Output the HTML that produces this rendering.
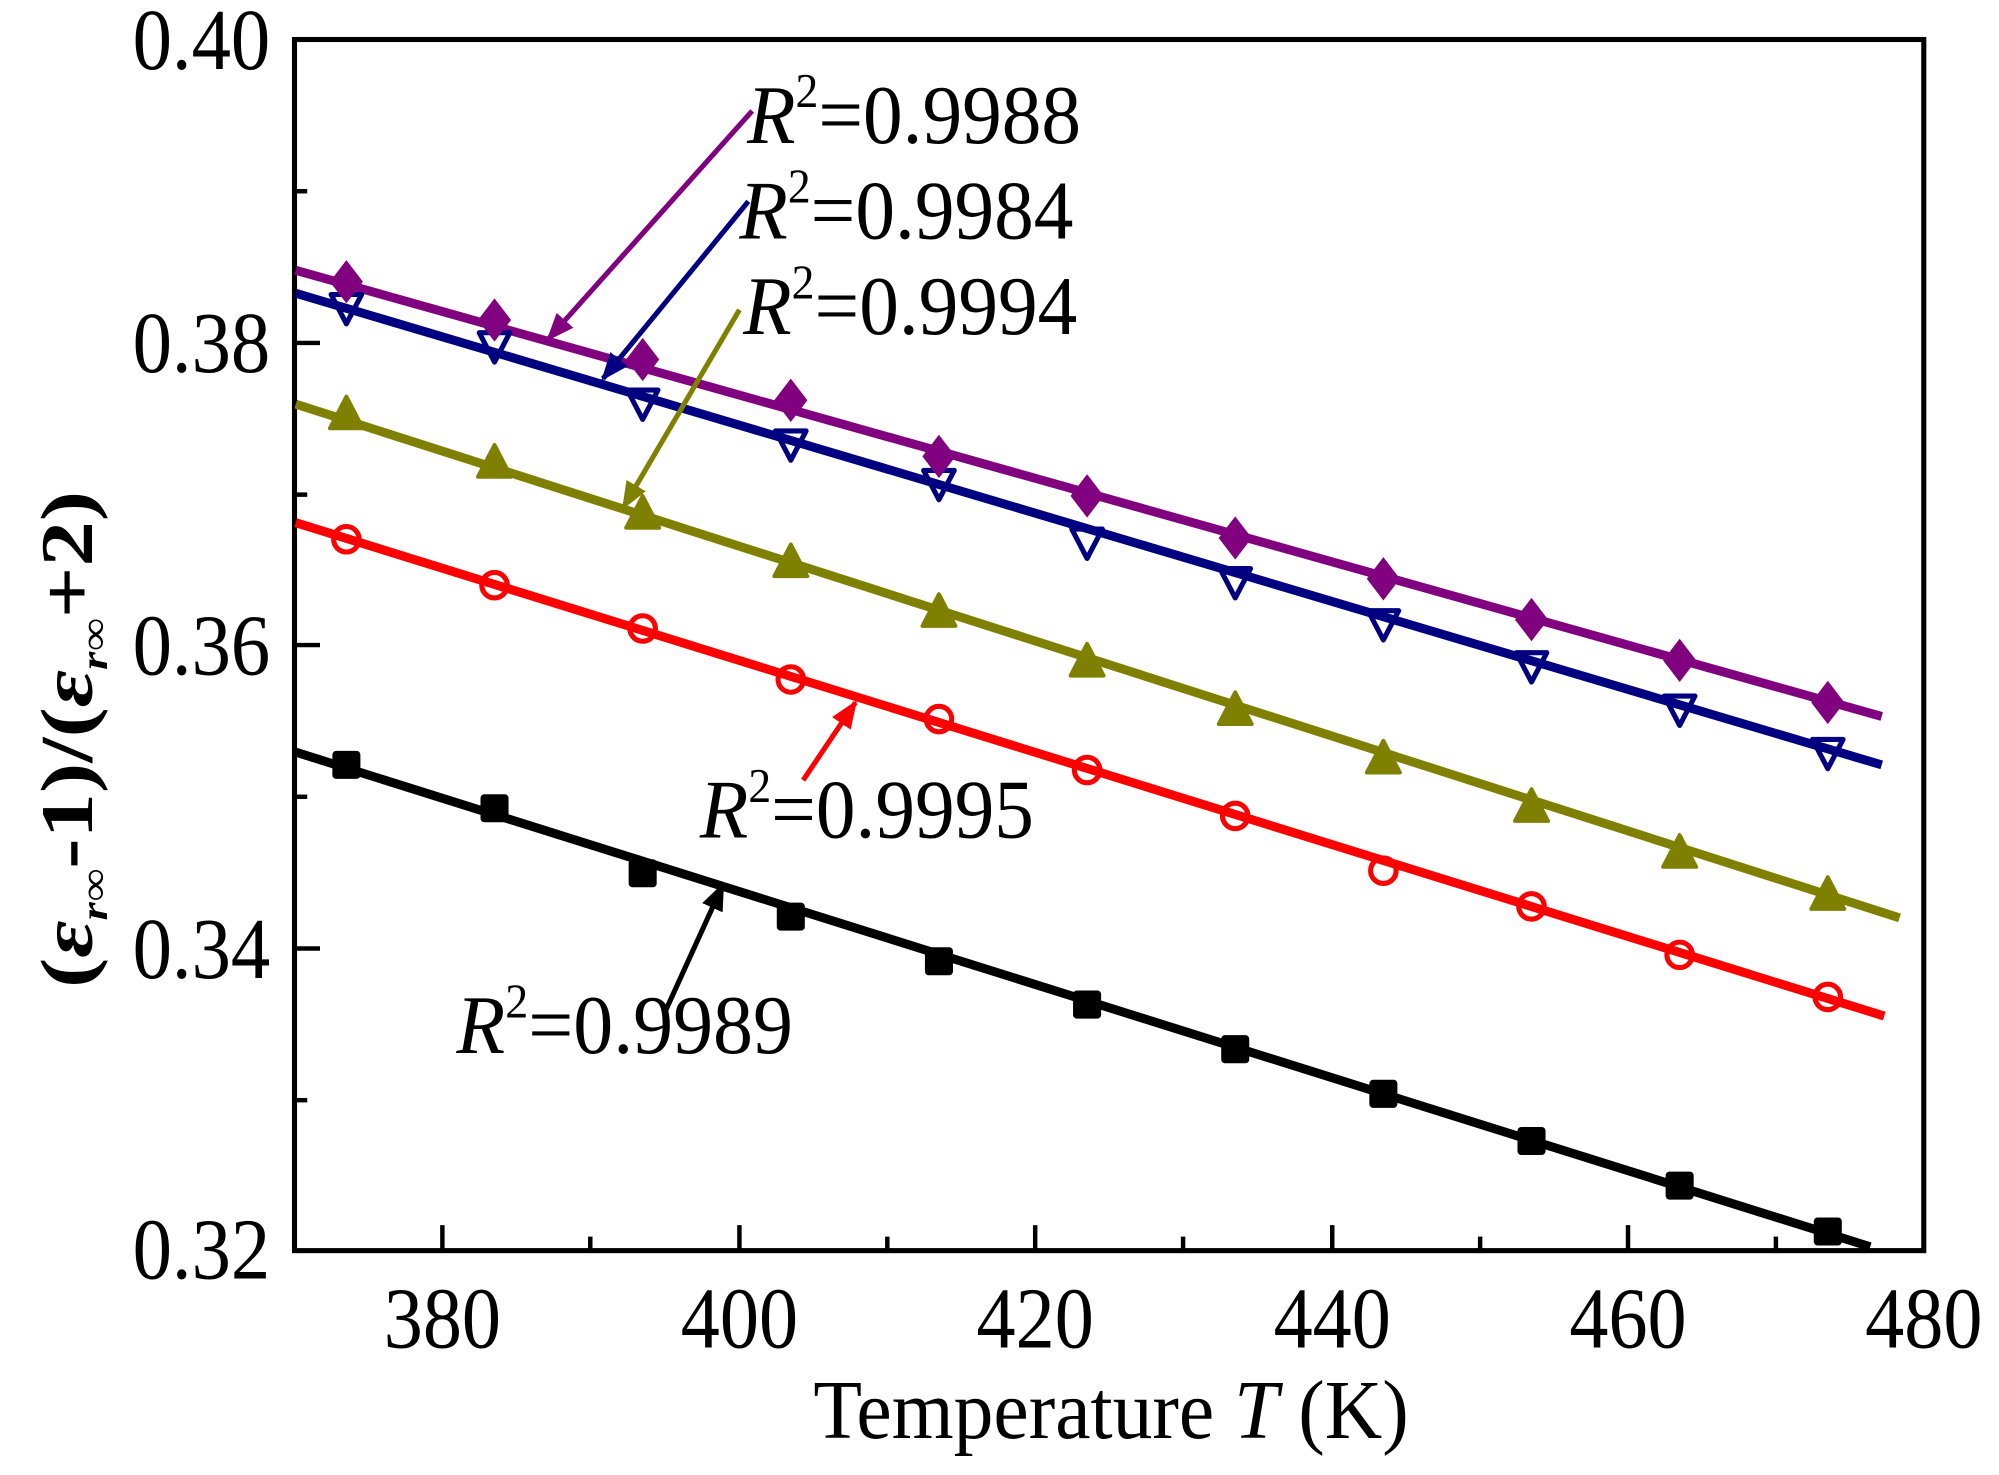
<!DOCTYPE html>
<html><head><meta charset="utf-8"><style>html,body{margin:0;padding:0;background:#fff}svg{display:block}</style></head><body>
<svg width="1999" height="1475" viewBox="0 0 1568 1157" preserveAspectRatio="none" xmlns="http://www.w3.org/2000/svg" font-family="'Liberation Serif', serif">
<defs>
<g id="sq"><rect x="-11" y="-11" width="22" height="22" rx="3" fill="#000"/></g>
<g id="ci"><circle r="10" fill="none" stroke="#ff0000" stroke-width="4"/></g>
<g id="tu"><path d="M0,-15 L13,10 L-13,10 Z" fill="#808000" stroke="#808000" stroke-width="3" stroke-linejoin="round"/></g>
<g id="td"><path d="M-12,-9 L12,-9 L0,14 Z" fill="none" stroke="#000080" stroke-width="4" stroke-linejoin="round"/></g>
<g id="di"><path d="M0,-17 L13,0 L0,17 L-13,0 Z" fill="#800080"/></g>
<marker id="ah" viewBox="0 0 10 10" refX="9" refY="5" markerWidth="5.5" markerHeight="5.5" orient="auto-start-reverse" markerUnits="strokeWidth"><path d="M0,1 L10,5 L0,9 Z" fill="context-stroke"/></marker>
</defs>
<rect x="231" y="31" width="1278" height="950" fill="none" stroke="#000" stroke-width="4"/>
<g stroke="#000" stroke-width="3.5">
<line x1="347" y1="981" x2="347" y2="961"/><line x1="580" y1="981" x2="580" y2="961"/><line x1="812" y1="981" x2="812" y2="961"/><line x1="1045" y1="981" x2="1045" y2="961"/><line x1="1277" y1="981" x2="1277" y2="961"/>
<line x1="463" y1="981" x2="463" y2="970"/><line x1="696" y1="981" x2="696" y2="970"/><line x1="928" y1="981" x2="928" y2="970"/><line x1="1161" y1="981" x2="1161" y2="970"/><line x1="1393" y1="981" x2="1393" y2="970"/>
<line x1="231" y1="269" x2="251" y2="269"/><line x1="231" y1="506" x2="251" y2="506"/><line x1="231" y1="744" x2="251" y2="744"/>
<line x1="231" y1="150" x2="241" y2="150"/><line x1="231" y1="388" x2="241" y2="388"/><line x1="231" y1="625" x2="241" y2="625"/><line x1="231" y1="863" x2="241" y2="863"/>
</g>
<g font-size="68" text-anchor="end">
<text x="212" y="54" textLength="108" lengthAdjust="spacingAndGlyphs">0.40</text>
<text x="212" y="292" textLength="108" lengthAdjust="spacingAndGlyphs">0.38</text>
<text x="212" y="529" textLength="108" lengthAdjust="spacingAndGlyphs">0.36</text>
<text x="212" y="767" textLength="108" lengthAdjust="spacingAndGlyphs">0.34</text>
<text x="212" y="1003" textLength="108" lengthAdjust="spacingAndGlyphs">0.32</text>
</g>
<g font-size="68" text-anchor="middle">
<text x="347" y="1057" textLength="92" lengthAdjust="spacingAndGlyphs">380</text>
<text x="580" y="1057" textLength="92" lengthAdjust="spacingAndGlyphs">400</text>
<text x="812" y="1057" textLength="92" lengthAdjust="spacingAndGlyphs">420</text>
<text x="1045" y="1057" textLength="92" lengthAdjust="spacingAndGlyphs">440</text>
<text x="1277" y="1057" textLength="92" lengthAdjust="spacingAndGlyphs">460</text>
<text x="1509" y="1057" textLength="92" lengthAdjust="spacingAndGlyphs">480</text>
</g>
<text x="638" y="1128" font-size="66" textLength="467" lengthAdjust="spacingAndGlyphs">Temperature <tspan font-style="italic">T</tspan> (K)</text>
<text transform="translate(72,580) rotate(-90)" text-anchor="middle" font-size="58" font-weight="bold" textLength="390" lengthAdjust="spacingAndGlyphs">(<tspan font-style="italic">ε</tspan><tspan font-size="30" dy="12" font-style="italic">r∞</tspan><tspan dy="-12">-1)/(</tspan><tspan font-style="italic">ε</tspan><tspan font-size="30" dy="12" font-style="italic">r∞</tspan><tspan dy="-12">+2)</tspan></text>
<g stroke-width="7" fill="none">
<line x1="232" y1="212" x2="1476" y2="562" stroke="#800080"/>
<line x1="232" y1="230" x2="1476" y2="600" stroke="#000080"/>
<line x1="232" y1="317" x2="1490" y2="720" stroke="#808000"/>
<line x1="232" y1="410" x2="1478" y2="797" stroke="#ff0000"/>
<line x1="232" y1="590" x2="1467" y2="978" stroke="#000"/>
</g>
<g>
<use href="#sq" x="271.7" y="600"/><use href="#sq" x="387.9" y="634"/><use href="#sq" x="504.1" y="685"/><use href="#sq" x="620.3" y="719"/><use href="#sq" x="736.5" y="754"/><use href="#sq" x="852.7" y="788"/><use href="#sq" x="968.9" y="823"/><use href="#sq" x="1085.1" y="858"/><use href="#sq" x="1201.3" y="895"/><use href="#sq" x="1317.5" y="930"/><use href="#sq" x="1433.7" y="966"/>
<use href="#ci" x="271.7" y="423"/><use href="#ci" x="387.9" y="459"/><use href="#ci" x="504.1" y="493"/><use href="#ci" x="620.3" y="533"/><use href="#ci" x="736.5" y="564"/><use href="#ci" x="852.7" y="604"/><use href="#ci" x="968.9" y="640"/><use href="#ci" x="1085.1" y="683"/><use href="#ci" x="1201.3" y="711"/><use href="#ci" x="1317.5" y="749"/><use href="#ci" x="1433.7" y="782"/>
<use href="#tu" x="271.7" y="326"/><use href="#tu" x="387.9" y="364"/><use href="#tu" x="504.1" y="404"/><use href="#tu" x="620.3" y="442"/><use href="#tu" x="736.5" y="481"/><use href="#tu" x="852.7" y="520"/><use href="#tu" x="968.9" y="558"/><use href="#tu" x="1085.1" y="596"/><use href="#tu" x="1201.3" y="634"/><use href="#tu" x="1317.5" y="670"/><use href="#tu" x="1433.7" y="703"/>
<use href="#td" x="271.7" y="240"/><use href="#td" x="387.9" y="270"/><use href="#td" x="504.1" y="315"/><use href="#td" x="620.3" y="347"/><use href="#td" x="736.5" y="378"/><use href="#td" x="852.7" y="424"/><use href="#td" x="968.9" y="455"/><use href="#td" x="1085.1" y="488"/><use href="#td" x="1201.3" y="521"/><use href="#td" x="1317.5" y="555"/><use href="#td" x="1433.7" y="589"/>
<use href="#di" x="271.7" y="221"/><use href="#di" x="387.9" y="251"/><use href="#di" x="504.1" y="282"/><use href="#di" x="620.3" y="314"/><use href="#di" x="736.5" y="358"/><use href="#di" x="852.7" y="389"/><use href="#di" x="968.9" y="422"/><use href="#di" x="1085.1" y="454"/><use href="#di" x="1201.3" y="486"/><use href="#di" x="1317.5" y="518"/><use href="#di" x="1433.7" y="551"/>
</g>
<g stroke-width="4" fill="none">
<line x1="590" y1="87" x2="430" y2="266" stroke="#800080" marker-end="url(#ah)"/>
<line x1="587" y1="158" x2="473" y2="297" stroke="#000080" marker-end="url(#ah)"/>
<line x1="580" y1="243" x2="489" y2="398" stroke="#808000" marker-end="url(#ah)"/>
<line x1="630" y1="612" x2="671" y2="551" stroke="#ff0000" marker-end="url(#ah)"/>
<line x1="522" y1="793" x2="567" y2="694" stroke="#000" marker-end="url(#ah)"/>
</g>
<g font-size="66">
<text x="586" y="112" textLength="262" lengthAdjust="spacingAndGlyphs"><tspan font-style="italic">R</tspan><tspan font-size="38" dy="-28">2</tspan><tspan dy="28">=0.9988</tspan></text>
<text x="580" y="187" textLength="262" lengthAdjust="spacingAndGlyphs"><tspan font-style="italic">R</tspan><tspan font-size="38" dy="-28">2</tspan><tspan dy="28">=0.9984</tspan></text>
<text x="583" y="262" textLength="262" lengthAdjust="spacingAndGlyphs"><tspan font-style="italic">R</tspan><tspan font-size="38" dy="-28">2</tspan><tspan dy="28">=0.9994</tspan></text>
<text x="549" y="657" textLength="262" lengthAdjust="spacingAndGlyphs"><tspan font-style="italic">R</tspan><tspan font-size="38" dy="-28">2</tspan><tspan dy="28">=0.9995</tspan></text>
<text x="358" y="826" textLength="264" lengthAdjust="spacingAndGlyphs"><tspan font-style="italic">R</tspan><tspan font-size="38" dy="-28">2</tspan><tspan dy="28">=0.9989</tspan></text>
</g>
</svg>
</body></html>
